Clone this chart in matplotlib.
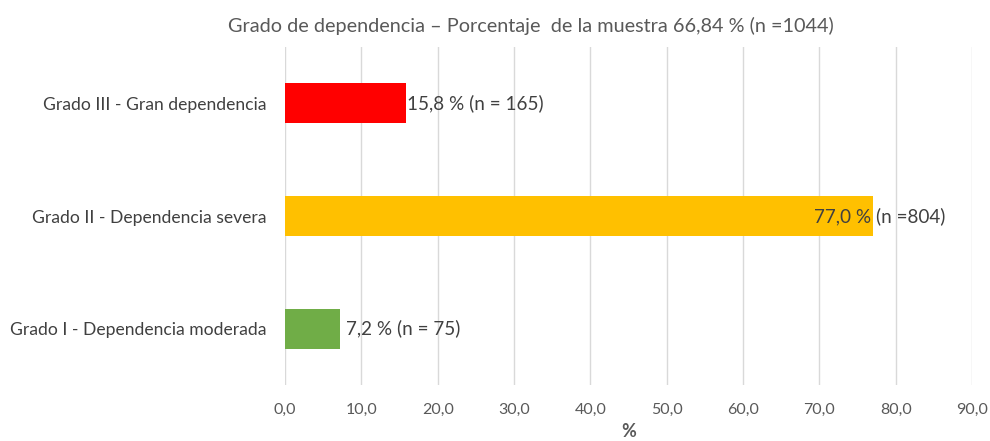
import matplotlib
matplotlib.use("Agg")
import matplotlib.pyplot as plt

categories = ["Grado I - Dependencia moderada", "Grado II - Dependencia severa", "Grado III - Gran dependencia"]
values = [7.2, 77.0, 15.8]
labels = ["7,2 % (n = 75)", "77,0 % (n =804)", "15,8 % (n = 165)"]
colors = ["#70AD47", "#FFC000", "#FF0000"]
xticks = [0, 10, 20, 30, 40, 50, 60, 70, 80, 90]
label_offsets = [6, -59, 1]  # pixel offsets of labels from bar end

plt.rcParams['font.family'] = ['Lato', 'DejaVu Sans']
txt = "#595959"

fig = plt.figure(figsize=(9.9, 4.41), dpi=100)
ax = fig.add_axes([0.2879, 0.127, 0.9818 - 0.2879, 0.8934 - 0.127])

y = list(range(len(categories)))
ax.barh(y, values, height=0.355, color=colors, zorder=3)
ax.set_xlim(0, 90)
ax.set_ylim(-0.5, 2.5)
ax.set_xticks(xticks)
ax.set_xticklabels([f"{t:.1f}".replace(".", ",") for t in xticks], color=txt, fontsize=11.5)
ax.set_yticks(y)
ax.set_yticklabels(categories, color="#404040", fontsize=12.6)
ax.tick_params(axis='x', length=0, pad=13)
ax.tick_params(axis='y', length=0, pad=13)
ax.grid(axis='x', color="#D9D9D9", linewidth=1, zorder=0)
for s in ax.spines.values():
    s.set_visible(False)

for yi, v, lab, off in zip(y, values, labels, label_offsets):
    ax.annotate(lab, xy=(v, yi), xytext=(off * 0.72, 0), textcoords='offset points',
                ha='left', va='center', color="#404040", fontsize=13.6, zorder=4)

ax.set_xlabel("%", color=txt, fontsize=13, fontweight='bold', labelpad=4)
fig.text(0.536, 0.942, "Grado de dependencia – Porcentaje  de la muestra 66,84 % (n =1044)",
         ha='center', va='center', color=txt, fontsize=14.3)

fig.savefig("out.png", dpi=100)
